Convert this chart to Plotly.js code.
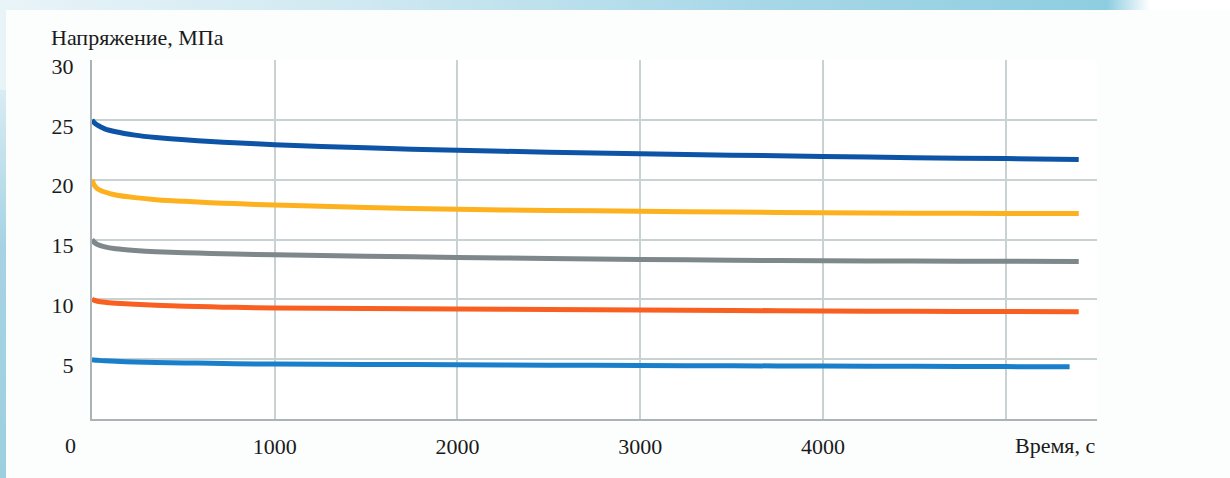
<!DOCTYPE html>
<html>
<head>
<meta charset="utf-8">
<script src="https://cdn.plot.ly/plotly-3.0.1.min.js"></script>
<style>
  html, body { margin: 0; padding: 0; width: 1230px; height: 478px; overflow: hidden; background: #ffffff; }
  #bg { position: absolute; left: 0; top: 0; width: 1230px; height: 478px;
        background: linear-gradient(90deg, #e9f4f8 0%, #cfe8f1 30%, #a9d8e8 60%, #8ecde0 90%, #ffffff 93.5%); }
  #leftband { position: absolute; left: 0; top: 90px; width: 8px; height: 388px;
        background: linear-gradient(180deg, #d8ecf3 0%, #a6d3e4 40%, #9dcfe1 100%); }
  #panel { position: absolute; left: 6px; top: 10px; width: 1224px; height: 468px; background: #fcfdfd; }
  #chart { position: absolute; left: 0; top: 0; width: 1230px; height: 478px; }
</style>
</head>
<body>
<div id="bg"></div>
<div id="leftband"></div>
<div id="panel"></div>
<div id="chart"></div>
<script>
// Time, s
const time = [0, 10, 30, 70, 130, 235, 350, 508, 650, 781, 1000, 1500, 2000, 2500, 3000, 3500, 4000, 4500, 5000, 5400];
const timeLow = [0, 10, 30, 70, 130, 235, 350, 508, 650, 781, 1000, 1500, 2000, 2500, 3000, 3500, 4000, 4500, 5000, 5350];

// Stress, MPa
const stress25 = [25.0, 24.8, 24.55, 24.25, 24.0, 23.72, 23.52, 23.33, 23.19, 23.08, 22.92, 22.66, 22.45, 22.3, 22.17, 22.05, 21.94, 21.84, 21.76, 21.69];
const stress20 = [20.0, 19.6, 19.25, 18.97, 18.72, 18.5, 18.33, 18.19, 18.08, 18.0, 17.88, 17.68, 17.52, 17.43, 17.36, 17.29, 17.23, 17.2, 17.18, 17.17];
const stress15 = [15.0, 14.8, 14.58, 14.38, 14.22, 14.08, 13.98, 13.9, 13.83, 13.78, 13.72, 13.6, 13.5, 13.41, 13.33, 13.27, 13.22, 13.2, 13.18, 13.17];
const stress10 = [10.0, 9.93, 9.84, 9.75, 9.67, 9.58, 9.5, 9.43, 9.37, 9.33, 9.28, 9.23, 9.19, 9.15, 9.11, 9.07, 9.03, 9.0, 8.98, 8.97];
const stress5  = [4.95, 4.93, 4.9, 4.86, 4.82, 4.77, 4.73, 4.69, 4.65, 4.62, 4.59, 4.56, 4.53, 4.5, 4.47, 4.45, 4.42, 4.4, 4.38, 4.36];

const yTicks = [5, 10, 15, 20, 25, 30];
const xTicks = [1000, 2000, 3000, 4000, 5000];
const xTickText = ['1000', '2000', '3000', '4000', ''];

const series = [
  {x: time, y: stress25, color: '#0d54a6'},
  {x: time, y: stress20, color: '#fdb11f'},
  {x: time, y: stress15, color: '#7e878a'},
  {x: time, y: stress10, color: '#fa5f22'},
  {x: timeLow, y: stress5, color: '#1a7fcb'}
];

const traces = series.map(s => ({
  x: s.x, y: s.y, type: 'scatter', mode: 'lines',
  line: {color: s.color, width: 5, shape: 'spline', smoothing: 0.6},
  hoverinfo: 'skip', showlegend: false
}));

const font = {family: 'Liberation Serif, Times New Roman, serif', size: 22, color: '#1a1a1a'};

const layout = {
  width: 1230, height: 478,
  margin: {l: 92, r: 133, t: 60, b: 59, pad: 0},
  paper_bgcolor: 'rgba(0,0,0,0)',
  plot_bgcolor: '#ffffff',
  font: font,
  showlegend: false,
  xaxis: {
    range: [0, 5500], tickvals: xTicks, ticktext: xTickText,
    showgrid: true, gridcolor: '#c8d2d3', gridwidth: 2,
    showline: true, linecolor: '#aab4b6', linewidth: 2,
    ticks: 'outside', ticklen: 7, tickcolor: 'rgba(0,0,0,0)',
    zeroline: false, tickfont: font, fixedrange: true
  },
  yaxis: {
    range: [0, 30], tickvals: yTicks,
    showgrid: true, gridcolor: '#c8d2d3', gridwidth: 2,
    showline: true, linecolor: '#aab4b6', linewidth: 2,
    ticks: 'outside', ticklen: 12, tickcolor: 'rgba(0,0,0,0)',
    ticklabelshift: 6,
    zeroline: false, tickfont: font, fixedrange: true
  },
  annotations: [
    {text: 'Напряжение, МПа', xref: 'paper', yref: 'paper', x: -0.043, y: 1.063,
     xanchor: 'left', yanchor: 'middle', showarrow: false, font: font},
    {text: '0', xref: 'paper', yref: 'paper', x: -0.021, y: -0.075,
     xanchor: 'center', yanchor: 'middle', showarrow: false, font: font},
    {text: 'Время, с', xref: 'paper', yref: 'paper', x: 1.0, y: -0.075,
     xanchor: 'right', yanchor: 'middle', showarrow: false, font: font}
  ]
};

Plotly.newPlot('chart', traces, layout, {displayModeBar: false, staticPlot: true});
</script>
</body>
</html>
